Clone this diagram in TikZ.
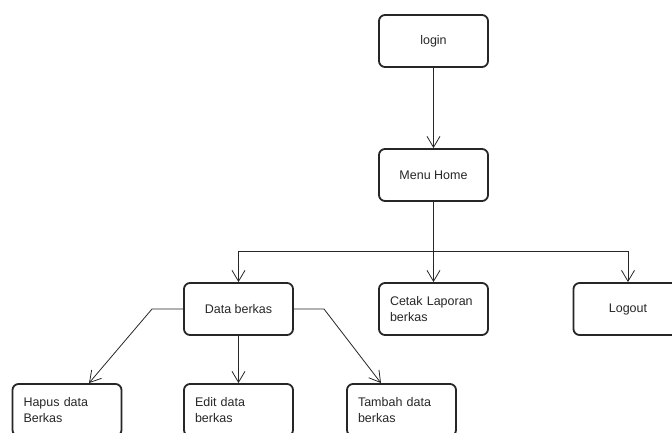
\documentclass[tikz,border=0pt]{standalone}
\usepackage{fontspec}
\setmainfont{Liberation Sans}
\usetikzlibrary{arrows.meta}
\tikzset{
	kotak/.style={draw=black!85, line width=1.8pt, rounded corners=6pt, minimum width=109pt, minimum height=52pt, font=\fontsize{12.5}{16}\selectfont, text=black!85},
	kotakkiri/.style={kotak, text width=87pt, inner xsep=11pt, align=left},
	garis/.style={draw=black!85, line width=0.8pt},
	panah/.style={garis, -{Straight Barb[length=11pt,width=13pt]}}
}
\begin{document}
\begin{tikzpicture}[x=1pt,y=-1pt]
			%%%%% START %%%%%
			
			\clip (0,0) rectangle (672,433);
			
			\node[kotak] (login) at (433.5,41) {login};
			\node[kotak] (menu) at (433.5,175) {Menu Home};
			
			\node[kotak] (data) at (238.5,309) {Data berkas};
			\node[kotakkiri] (cetak) at (433.5,309) {Cetak Laporan\\berkas};
			\node[kotak] (logout) at (628,309) {Logout};
			
			\node[kotakkiri] (hapus) at (67,410) {Hapus data\\Berkas};
			\node[kotakkiri] (edit) at (238.5,410) {Edit data\\berkas};
			\node[kotakkiri] (tambah) at (401.5,410) {Tambah data\\berkas};
			
			\coordinate (cabang) at (433.5,251.5);
			\coordinate (kiri) at (152,309);
			\coordinate (kanan) at (324,309);
			
			\draw[panah] (login) -- (menu);
			\draw[garis] (menu) -- (cabang);
			\draw[panah] (cabang) -| (data);
			\draw[panah] (cabang) -- (cetak);
			\draw[panah] (cabang) -| (logout);
			
			\draw[panah] (data.west) -- (kiri) -- ([xshift=22pt]hapus.north);
			\draw[panah] (data) -- (edit);
			\draw[panah] (data.east) -- (kanan) -- ([xshift=-20.5pt]tambah.north);
			
			%%%%% END %%%%%
\end{tikzpicture}
\end{document}
